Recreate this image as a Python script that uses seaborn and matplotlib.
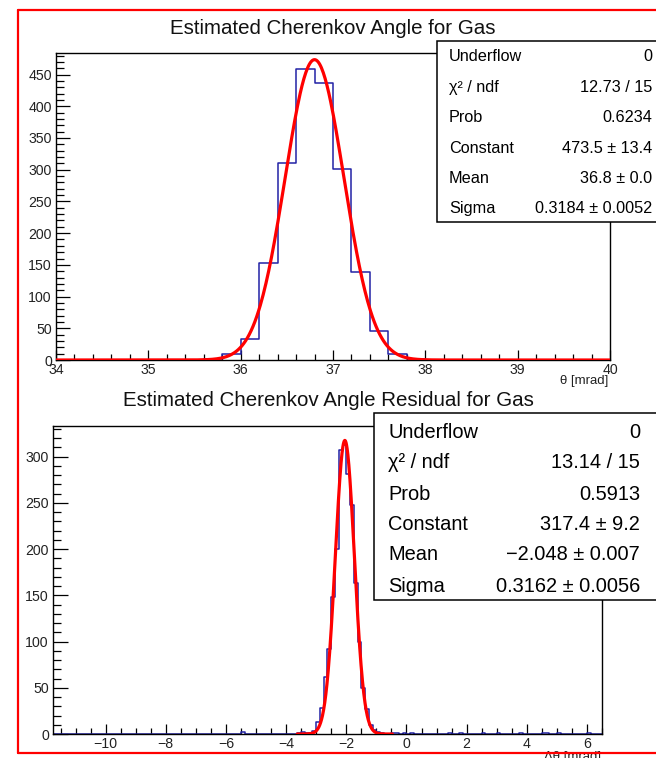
import numpy as np
import pandas as pd
import matplotlib
matplotlib.use("Agg")
import matplotlib.pyplot as plt
from matplotlib.ticker import MultipleLocator
from matplotlib.patches import Rectangle
from matplotlib.lines import Line2D
import seaborn as sns

# ---------------- data ----------------
# top histogram: theta [mrad], 30 bins over 34..40
top_range = (34.0, 40.0)
top_nbins = 30
top_centers = [35.7, 35.9, 36.1, 36.3, 36.5, 36.7, 36.9, 37.1, 37.3, 37.5, 37.7, 37.9]
top_counts = [2, 10, 33, 153, 310, 459, 436, 301, 138, 46, 9, 2]
top_fit = dict(constant=473.5, mean=36.8, sigma=0.3184)
top_fit_range = (34.0, 40.0)
top_stats_labels = ["Underflow", "χ² / ndf", "Prob", "Constant", "Mean", "Sigma"]
top_stats_values = ["0", "12.73 / 15", "0.6234", "473.5 ± 13.4", "36.8 ± 0.0", "0.3184 ± 0.0052"]

# bottom histogram: delta theta [mrad], bins of 0.125 over -11.75..6.5
bot_range = (-11.75, 6.5)
bot_nbins = 146
bot_centers = [-5.4375, -3.5625, -3.4375, -3.3125, -3.1875, -3.0625, -2.9375, -2.8125,
               -2.6875, -2.5625, -2.4375, -2.3125, -2.1875, -2.0625, -1.9375, -1.8125,
               -1.6875, -1.5625, -1.4375, -1.3125, -1.1875, -1.0625, -0.9375, -0.8125,
               -0.4375, -0.3125, -0.0625, 0.1875, 1.4375, 1.8125, 2.5625, 3.0625,
               3.8125, 4.5625, 4.6875, 5.0625, 6.0625]
bot_counts = [2, 1, 2, 1, 1, 3, 13, 28,
              62, 92, 148, 200, 307, 312, 281, 248,
              163, 100, 50, 27, 10, 4, 2, 1,
              1, 1, 1, 1, 1, 1, 1, 1,
              1, 1, 1, 1, 1]
bot_fit = dict(constant=317.4, mean=-2.048, sigma=0.3162)
bot_fit_range = (-3.63, -0.47)
bot_stats_labels = ["Underflow", "χ² / ndf", "Prob", "Constant", "Mean", "Sigma"]
bot_stats_values = ["0", "13.14 / 15", "0.5913", "317.4 ± 9.2", "−2.048 ± 0.007", "0.3162 ± 0.0056"]

titles = ["Estimated Cherenkov Angle for Gas", "Estimated Cherenkov Angle Residual for Gas"]
xlabels = ["θ [mrad]", "Δθ [mrad]"]

# ---------------- style ----------------
sns.set_theme(style="white")
plt.rcParams["font.family"] = ["Liberation Sans", "DejaVu Sans"]
plt.rcParams["axes.unicode_minus"] = True

W, H = 656, 758
fig = plt.figure(figsize=(W / 100, H / 100), dpi=100)
fig.patch.set_facecolor("white")


def fx(px):
    return px / W


def fy(py):
    return 1 - py / H


def add_axes(l, t, r, b):
    return fig.add_axes([fx(l), fy(b), fx(r) - fx(l), (b - t) / H])


HIST_COLOR = "#2222a6"
FIT_COLOR = "#ff0000"


def draw_panel(ax, centers, counts, rng, nbins, fit, fit_rng, ylim, xmaj, xmin, ymaj, ymin,
               xtick_len, ytick_len, label_size):
    df = pd.DataFrame({"x": centers, "w": counts})
    sns.histplot(data=df, x="x", weights="w", bins=nbins, binrange=rng, element="step",
                 fill=False, color=HIST_COLOR, linewidth=1.1, ax=ax, zorder=2)
    xs = np.linspace(fit_rng[0], fit_rng[1], 600)
    ys = fit["constant"] * np.exp(-0.5 * ((xs - fit["mean"]) / fit["sigma"]) ** 2)
    sns.lineplot(x=xs, y=ys, color=FIT_COLOR, linewidth=2.3, ax=ax, zorder=3)
    ax.set_xlim(rng)
    ax.set_ylim(ylim)
    ax.set_xlabel("")
    ax.set_ylabel("")
    ax.set_facecolor("white")
    for s in ax.spines.values():
        s.set_color("black")
        s.set_linewidth(1.0)
    ax.xaxis.set_major_locator(MultipleLocator(xmaj))
    ax.xaxis.set_minor_locator(MultipleLocator(xmin))
    ax.yaxis.set_major_locator(MultipleLocator(ymaj))
    ax.yaxis.set_minor_locator(MultipleLocator(ymin))
    ax.tick_params(axis="x", which="major", direction="in", length=xtick_len[0], width=0.9,
                   color="black", labelsize=label_size, pad=2.5, bottom=True, top=False)
    ax.tick_params(axis="x", which="minor", direction="in", length=xtick_len[1], width=0.9,
                   color="black", bottom=True, top=False)
    ax.tick_params(axis="y", which="major", direction="in", length=ytick_len[0], width=0.9,
                   color="black", labelsize=label_size, pad=3, left=True, right=False)
    ax.tick_params(axis="y", which="minor", direction="in", length=ytick_len[1], width=0.9,
                   color="black", left=True, right=False)
    for lab in ax.get_xticklabels() + ax.get_yticklabels():
        lab.set_color("#222222")


def stats_box(l, t, r, b, labels, values, label_x, value_x, row_ys, size):
    rect = Rectangle((fx(l), fy(b)), fx(r) - fx(l), (b - t) / H, transform=fig.transFigure,
                     facecolor="white", edgecolor="black", linewidth=1.1, zorder=10)
    fig.add_artist(rect)
    for lab, val, yy in zip(labels, values, row_ys):
        fig.text(fx(label_x), fy(yy), lab, ha="left", va="center_baseline", fontsize=size,
                 color="black", zorder=11)
        fig.text(fx(value_x), fy(yy), val, ha="right", va="center_baseline", fontsize=size,
                 color="black", zorder=11)


# top panel
ax1 = add_axes(56, 53, 610, 360)
draw_panel(ax1, top_centers, top_counts, top_range, top_nbins, top_fit, top_fit_range,
           (0, 484), 1, 0.2, 50, 10, (7, 4.5), (10, 6), 10.2)
fig.text(fx(333), fy(29), titles[0], ha="center", va="center", fontsize=14.8, color="#111111")
fig.text(fx(608), fy(381), xlabels[0], ha="right", va="center", fontsize=9.5, color="#222222")
stats_box(437, 41, 662, 222, top_stats_labels, top_stats_values, 449, 652,
          [55, 86, 116, 147, 177, 207], 11.7)

# bottom panel
ax2 = add_axes(53, 426, 602, 734)
draw_panel(ax2, bot_centers, bot_counts, bot_range, bot_nbins, bot_fit, bot_fit_range,
           (0, 333), 2, 0.5, 50, 10, (7, 4), (11, 6), 10.2)
fig.text(fx(328), fy(401), titles[1], ha="center", va="center", fontsize=14.8, color="#111111")
fig.text(fx(601), fy(751), xlabels[1], ha="right", va="top", fontsize=9.5, color="#222222")
stats_box(374, 413, 662, 600, bot_stats_labels, bot_stats_values, 388, 640,
          [430, 461, 492, 522, 553, 584], 14.4)

# red frame
for (x0, y0, x1, y1) in [(18, 10, 18, 753), (18, 10, 660, 10), (18, 753, 660, 753)]:
    fig.add_artist(Line2D([fx(x0), fx(x1)], [fy(y0), fy(y1)], transform=fig.transFigure,
                          color="#ff0000", linewidth=1.6, zorder=20))

fig.savefig("out.png", dpi=100, facecolor="white")
